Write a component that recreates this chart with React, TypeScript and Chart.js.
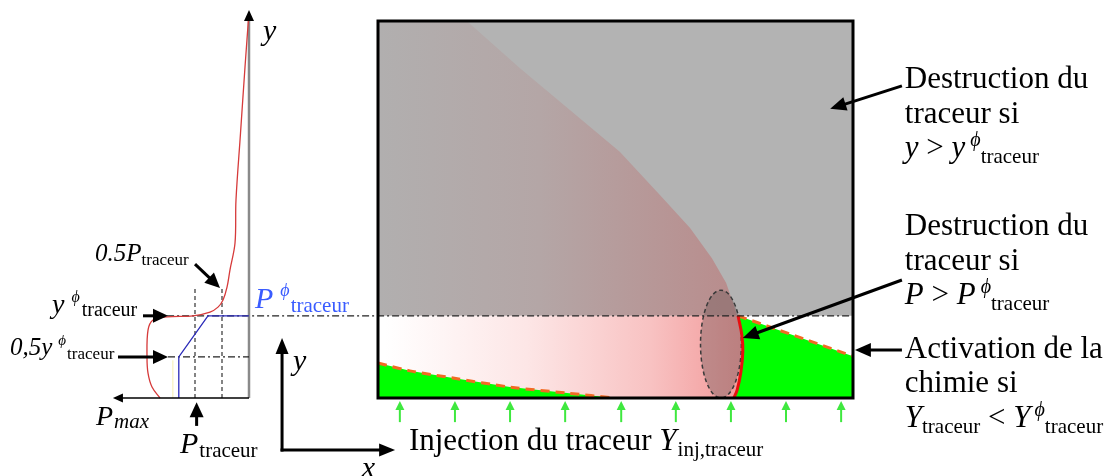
import React, { useEffect, useRef } from "react";
import { Chart, registerables } from "chart.js";

Chart.register(...registerables);

const SERIF = '"Liberation Serif", "Times New Roman", serif';

// ---------- Right panel: domain, x and y normalised to the box ----------
const yPhi = 0.218; // y^phi_traceur
const halfYPhi = 0.109; // 0,5 y^phi_traceur
const boxX = [0, 1, 1, 0, 0, 1];
const boxY = [0, 0, 1, 1, 0, 0];
const destructionZoneX = [0, 1, 1, 0, 0];
const destructionZoneY = [yPhi, yPhi, 1, 1, yPhi];
const plumeEdgeX = [0.187, 0.299, 0.404, 0.509, 0.594, 0.657, 0.703, 0.733, 0.749, 0.756];
const plumeEdgeY = [1, 0.875, 0.764, 0.653, 0.538, 0.451, 0.371, 0.305, 0.247, 0.218];
const flameFrontX = [0.749, 0.756, 0.764, 0.768, 0.766, 0.758];
const flameFrontY = [0, 0.021, 0.069, 0.122, 0.167, 0.218];
const leftChemX = [0, 0.067, 0.158, 0.278, 0.398, 0.499];
const leftChemY = [0.093, 0.072, 0.053, 0.029, 0.013, 0];
const rightChemX = [0.758, 1];
const rightChemY = [0.218, 0.111];
const injectionX = [0.046, 0.162, 0.278, 0.394, 0.512, 0.627, 0.743, 0.859, 0.975];
const injectionY = [-0.064, -0.008];
const phiLineX = [-0.444, 1];
const kernel = { cx: 0.722, cy: 0.143, rx: 0.043, ry: 0.143 };

// ---------- Left panel: profile P(y) ----------
const profileP = [1.648, 1.796, 1.870, 1.889, 1.870, 1.778, 1.519, 1.037, 0.722, 0.574, 0.481, 0.407, 0.352, 0.259, 0.241, 0.157, 0.074, 0];
const profileY = [0, 0.029, 0.066, 0.109, 0.180, 0.207, 0.215, 0.218, 0.228, 0.241, 0.260, 0.294, 0.340, 0.411, 0.525, 0.703, 0.878, 1.024];
const modelP = [1.3, 1.3, 0.76, 0];
const modelY = [0, halfYPhi, yPhi, yPhi];
const pTraceur = 1;
const halfPTraceur = 0.5;
const guideTop = 0.294;
const guideStartP = 1.5;
const pMax = 2.52;
const yAxisTop = 1.029;

// ---------- layout of the picture (pixels) ----------
const W = 1112, H = 476;
const BOX_L = 378, BOX_R = 853, BOX_B = 398, BOX_T = 21;
const PROF_O = 249, P_UNIT = 54;

const pts = (xs: number[], ys: number[]) => xs.map((x, i) => ({ x, y: ys[i] }));

const hGrad = (x0: number, x1: number, stops: [number, string][]) => (ctx: any) => {
  const chart = ctx.chart;
  const sx = chart.scales?.x;
  if (!sx || !chart.chartArea) return stops[stops.length - 1][1];
  const g = chart.ctx.createLinearGradient(sx.getPixelForValue(x0), 0, sx.getPixelForValue(x1), 0);
  stops.forEach(([o, c]) => g.addColorStop(o, c));
  return g;
};

type Seg = { k: string; t: string; dx?: number };
const n = (t: string, dx = 0): Seg => ({ k: "n", t, dx });
const it = (t: string, dx = 0): Seg => ({ k: "i", t, dx });
const sub = (t: string, dx = 0): Seg => ({ k: "sub", t, dx });
const subi = (t: string, dx = 0): Seg => ({ k: "subi", t, dx });
const sup = (t: string, dx = 0): Seg => ({ k: "sup", t, dx });

const BIG = { size: 31, sub: 21, sup: 20, subDy: 6, supDy: 11 };
const AX = { size: 30, sub: 20, sup: 16, subDy: 4, supDy: 10 };

const notes: any[] = [
  { axis: "D", x: 1.109, y: 0.822, st: BIG, segs: [n("Destruction du")] },
  { axis: "D", x: 1.109, y: 0.729, st: BIG, segs: [n("traceur si")] },
  { axis: "D", x: 1.109, y: 0.639, st: BIG, segs: [it("y"), n(" > "), it("y"), sup("ϕ", 5), sub("traceur", 0)] },
  { axis: "D", x: 1.109, y: 0.432, st: BIG, segs: [n("Destruction du")] },
  { axis: "D", x: 1.109, y: 0.340, st: BIG, segs: [n("traceur si")] },
  { axis: "D", x: 1.109, y: 0.249, st: BIG, segs: [it("P"), n(" > "), it("P"), sup("ϕ", 5), sub("traceur", 0)] },
  { axis: "D", x: 1.109, y: 0.106, st: BIG, segs: [n("Activation de la")] },
  { axis: "D", x: 1.109, y: 0.016, st: BIG, segs: [n("chimie si")] },
  { axis: "D", x: 1.109, y: -0.077, st: BIG, segs: [it("Y"), sub("traceur"), n(" < "), it("Y"), sup("ϕ", 4), sub("traceur", 0)] },
  { axis: "D", x: 0.065, y: -0.138, st: BIG, segs: [n("Injection du traceur "), it("Y"), sub("inj,traceur", 1)] },
  { axis: "D", x: -0.179, y: 0.074, st: AX, segs: [it("y")] },
  { axis: "D", x: -0.034, y: -0.210, st: AX, segs: [it("x")] },
  { axis: "P", x: -0.259, y: 0.950, st: AX, segs: [it("y")] },
  { axis: "P", x: 2.852, y: 0.363, st: { size: 25, sub: 17, sup: 15, subDy: 4, supDy: 9 }, segs: [it("0.5P"), sub("traceur")] },
  { axis: "P", x: 3.648, y: 0.225, st: { size: 28, sub: 20, sup: 16, subDy: 3, supDy: 11 }, segs: [it("y"), sup("ϕ", 7), sub("traceur", 2)] },
  { axis: "P", x: 4.426, y: 0.114, st: { size: 25, sub: 17, sup: 15, subDy: 4, supDy: 10 }, segs: [it("0,5y"), sup("ϕ", 6), sub("traceur", 1)] },
  { axis: "P", x: 2.833, y: -0.072, st: { size: 28, sub: 21, sup: 15, subDy: 3, supDy: 10 }, segs: [it("P"), subi("max", 1)] },
  { axis: "P", x: 1.278, y: -0.146, st: { size: 30, sub: 21, sup: 15, subDy: 4, supDy: 10 }, segs: [it("P"), sub("traceur", 1)] },
  { axis: "P", x: -0.111, y: 0.239, color: "#3a5cff", st: { size: 30, sub: 21, sup: 18, subDy: 4, supDy: 12 }, segs: [it("P"), sup("ϕ", 7), sub("traceur", 1)] },
];

const arrows: any[] = [
  { axis: "D", from: [1.103, 0.828], to: [0.952, 0.767], lw: 3, head: 16, hw: 14 },
  { axis: "D", from: [1.103, 0.313], to: [0.768, 0.159], lw: 3, head: 16, hw: 14 },
  { axis: "D", from: [1.103, 0.127], to: [1.004, 0.127], lw: 3, head: 16, hw: 14 },
  { axis: "D", from: [-0.202, -0.138], to: [-0.202, 0.159], lw: 3, head: 16, hw: 13, cap: "square" },
  { axis: "D", from: [-0.202, -0.138], to: [0.036, -0.138], lw: 3, head: 16, hw: 13, cap: "square" },
  { axis: "P", from: [1.0, 0.355], to: [0.537, 0.292], lw: 3, head: 15, hw: 14 },
  { axis: "P", from: [1.963, yPhi], to: [guideStartP, yPhi], lw: 3, head: 15, hw: 14 },
  { axis: "P", from: [2.426, halfYPhi], to: [guideStartP, halfYPhi], lw: 3, head: 15, hw: 14 },
  { axis: "P", from: [0.97, -0.074], to: [0.97, -0.011], lw: 3, head: 15, hw: 14 },
  { axis: "P", from: [0, 0], to: [pMax, 0], lw: 1.5, head: 10, hw: 9 },
  { axis: "P", from: [0, 1.0], to: [0, yAxisTop], lw: 1, head: 11, hw: 10 },
];

function drawArrow(ctx: CanvasRenderingContext2D, x1: number, y1: number, x2: number, y2: number, a: any) {
  const dx = x2 - x1, dy = y2 - y1;
  const len = Math.hypot(dx, dy) || 1;
  const ux = dx / len, uy = dy / len;
  const bx = x2 - ux * a.head, by = y2 - uy * a.head;
  ctx.save();
  ctx.strokeStyle = a.color || "#000";
  ctx.fillStyle = a.color || "#000";
  ctx.lineWidth = a.lw;
  ctx.lineCap = a.cap || "butt";
  ctx.beginPath();
  ctx.moveTo(x1, y1);
  ctx.lineTo(bx + ux * 2, by + uy * 2);
  ctx.stroke();
  ctx.beginPath();
  ctx.moveTo(x2, y2);
  ctx.lineTo(bx - uy * a.hw / 2, by + ux * a.hw / 2);
  ctx.lineTo(bx + uy * a.hw / 2, by - ux * a.hw / 2);
  ctx.closePath();
  ctx.fill();
  ctx.restore();
}

function drawNote(ctx: CanvasRenderingContext2D, px: number, py: number, note: any) {
  const st = note.st;
  let x = px;
  ctx.save();
  ctx.fillStyle = note.color || "#000";
  ctx.textBaseline = "alphabetic";
  ctx.textAlign = "left";
  for (const s of note.segs) {
    let size = st.size, italic = false, dy = 0;
    if (s.k === "i") italic = true;
    else if (s.k === "sub") { size = st.sub; dy = st.subDy; }
    else if (s.k === "subi") { size = st.sub; dy = st.subDy; italic = true; }
    else if (s.k === "sup") { size = st.sup; dy = -st.supDy; italic = true; }
    x += s.dx || 0;
    ctx.font = `${italic ? "italic " : ""}${size}px ${SERIF}`;
    ctx.fillText(s.t, x, py + dy);
    x += ctx.measureText(s.t).width;
  }
  ctx.restore();
}

const annotate = {
  id: "annotate",
  beforeDatasetDraw(chart: any, args: any) {
    const ds = chart.data.datasets[args.index];
    if (ds.label !== "flameFront") return;
    const sx = chart.scales.x, sy = chart.scales.y, c = chart.ctx;
    const cx = sx.getPixelForValue(kernel.cx), cy = sy.getPixelForValue(kernel.cy);
    const rx = Math.abs(sx.getPixelForValue(kernel.cx + kernel.rx) - cx);
    const ry = Math.abs(sy.getPixelForValue(kernel.cy + kernel.ry) - cy);
    c.save();
    c.beginPath();
    c.ellipse(cx, cy, rx, ry, 0, 0, Math.PI * 2);
    c.fillStyle = "rgba(115,92,92,0.42)";
    c.fill();
    c.setLineDash([4, 3]);
    c.lineWidth = 1.5;
    c.strokeStyle = "#3a3a3a";
    c.stroke();
    c.restore();
  },
  afterDatasetsDraw(chart: any) {
    const c = chart.ctx;
    const sy = chart.scales.y;
    const sx = (axis: string) => (axis === "P" ? chart.scales.xP : chart.scales.x);
    for (const a of arrows) {
      const s = sx(a.axis);
      drawArrow(c, s.getPixelForValue(a.from[0]), sy.getPixelForValue(a.from[1]), s.getPixelForValue(a.to[0]), sy.getPixelForValue(a.to[1]), a);
    }
    for (const xv of injectionX) {
      const px = chart.scales.x.getPixelForValue(xv);
      drawArrow(c, px, sy.getPixelForValue(injectionY[0]), px, sy.getPixelForValue(injectionY[1]), { lw: 2, head: 9, hw: 9, color: "#3fe83f" });
    }
    for (const nt of notes) {
      const s = sx(nt.axis);
      drawNote(c, s.getPixelForValue(nt.x), sy.getPixelForValue(nt.y), nt);
    }
  },
};

export default function App() {
  const ref = useRef<HTMLCanvasElement | null>(null);
  useEffect(() => {
    if (!ref.current) return;
    const base = { pointRadius: 0, pointHoverRadius: 0, tension: 0, fill: false, borderWidth: 0, borderColor: "transparent" };
    const layers: any[] = [
      { ...base, label: "destructionZone", data: pts(destructionZoneX, destructionZoneY), fill: "shape", backgroundColor: "#b3b3b3" },
      {
        ...base, label: "plume",
        data: pts([0, ...plumeEdgeX, 0, 0], [1, ...plumeEdgeY, yPhi, 1]),
        fill: "shape",
        backgroundColor: hGrad(0, 0.756, [[0, "#b1afaf"], [0.45, "#b4a6a6"], [1, "#b98c8c"]]),
      },
      {
        ...base, label: "band",
        data: pts([0, ...flameFrontX, 0, 0], [0, ...flameFrontY, yPhi, 0]),
        fill: "shape",
        backgroundColor: hGrad(0.015, 0.76, [[0, "#ffffff"], [0.4, "#fde6e6"], [0.75, "#f8c2c2"], [1, "#f29a9a"]]),
      },
      { ...base, label: "leftChem", data: pts([...leftChemX, 0, 0], [...leftChemY, 0, leftChemY[0]]), fill: "shape", backgroundColor: "#00ff00" },
      {
        ...base, label: "rightChem",
        data: pts([...rightChemX, 1, ...flameFrontX, rightChemX[0]], [...rightChemY, 0, ...flameFrontY, rightChemY[0]]),
        fill: "shape", backgroundColor: "#00ff00",
      },
      { ...base, label: "leftLimit", data: pts(leftChemX, leftChemY), borderWidth: 3, borderColor: "#f26a22", borderDash: [9, 6], tension: 0.3 },
      { ...base, label: "rightLimit", data: pts(rightChemX, rightChemY), borderWidth: 3, borderColor: "#f26a22", borderDash: [9, 6] },
      { ...base, label: "flameFront", data: pts(flameFrontX, flameFrontY), borderWidth: 3, borderColor: "#e81010", tension: 0.4 },
      { ...base, label: "phiLine", data: pts(phiLineX, [yPhi, yPhi]), borderWidth: 1.2, borderColor: "#222", borderDash: [7, 3, 2, 3] },
      { ...base, label: "box", data: pts(boxX, boxY), borderWidth: 3, borderColor: "#000", borderJoinStyle: "miter" },
      // profile
      { ...base, label: "yAxis", xAxisID: "xP", data: pts([0, 0], [0, 1.0]), borderWidth: 2.5, borderColor: "#8a8a8a" },
      { ...base, label: "pTraceur", xAxisID: "xP", data: pts([pTraceur, pTraceur], [0, guideTop]), borderWidth: 1.2, borderColor: "#333", borderDash: [4, 3] },
      { ...base, label: "halfPTraceur", xAxisID: "xP", data: pts([halfPTraceur, halfPTraceur], [0, guideTop]), borderWidth: 1.2, borderColor: "#333", borderDash: [4, 3] },
      { ...base, label: "halfYPhi", xAxisID: "xP", data: pts([guideStartP, 0], [halfYPhi, halfYPhi]), borderWidth: 1.2, borderColor: "#222", borderDash: [7, 3, 2, 3] },
      { ...base, label: "faint", xAxisID: "xP", data: pts([1.41, 1.41], [0, 0.1]), borderWidth: 1, borderColor: "rgba(240,225,110,0.55)" },
      { ...base, label: "model", xAxisID: "xP", data: pts(modelP, modelY), borderWidth: 1.3, borderColor: "#2a2ab8" },
      { ...base, label: "profile", xAxisID: "xP", data: pts(profileP, profileY), borderWidth: 1.3, borderColor: "#d63a3a", tension: 0.35 },
    ];
    const N = layers.length;
    layers.forEach((l, i) => {
      l.order = N - i;
      if (!l.xAxisID) l.xAxisID = "x";
      l.yAxisID = "y";
    });
    const chart = new Chart(ref.current, {
      type: "line",
      data: { datasets: layers },
      options: {
        animation: false,
        responsive: false,
        events: [],
        layout: { padding: 0 },
        plugins: { legend: { display: false }, tooltip: { enabled: false } },
        scales: {
          x: { type: "linear", display: false, bounds: "data", min: -BOX_L / (BOX_R - BOX_L), max: (W - BOX_L) / (BOX_R - BOX_L) },
          y: { type: "linear", display: false, bounds: "data", min: -(H - BOX_B) / (BOX_B - BOX_T), max: BOX_B / (BOX_B - BOX_T) },
          xP: { type: "linear", axis: "x", display: false, bounds: "data", reverse: true, min: -(W - PROF_O) / P_UNIT, max: PROF_O / P_UNIT },
        },
      } as any,
      plugins: [annotate],
    });
    return () => chart.destroy();
  }, []);
  return (
    <div style={{ position: "fixed", left: 0, top: 0, width: W, height: H, background: "#fff" }}>
      <canvas ref={ref} width={W} height={H} style={{ display: "block", width: W, height: H }} />
    </div>
  );
}
